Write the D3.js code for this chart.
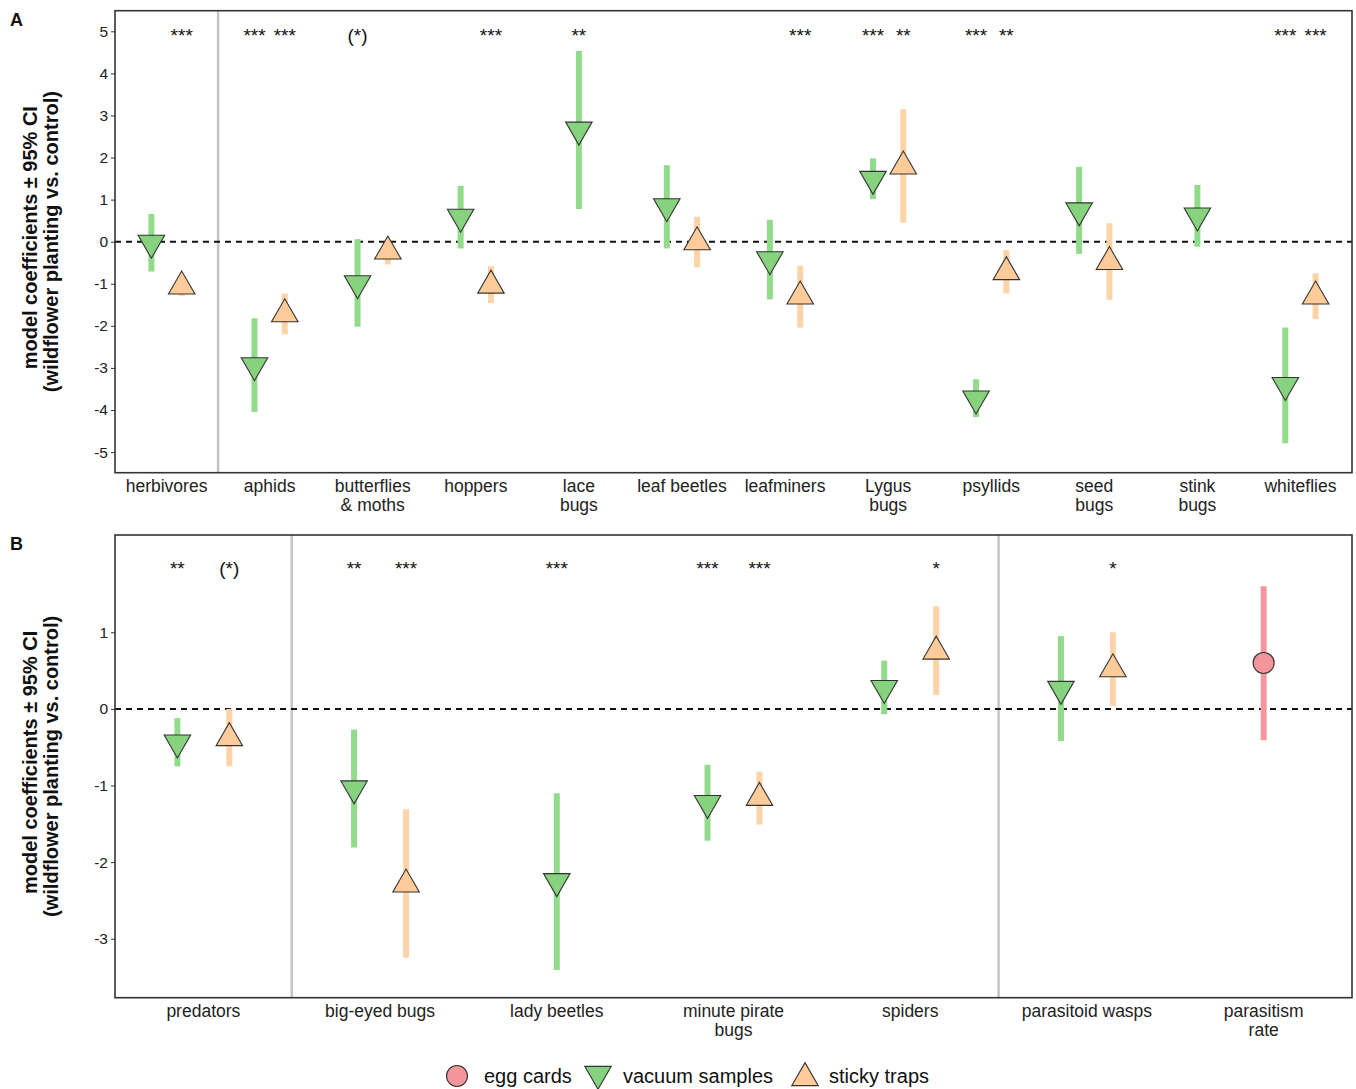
<!DOCTYPE html>
<html>
<head>
<meta charset="utf-8">
<script src="https://cdn.jsdelivr.net/npm/d3@7"></script>
<style>
body{margin:0;background:#fff;}
svg{font-family:"Liberation Sans",Arial,Helvetica,sans-serif;}
</style>
</head>
<body>
<div id="chart"></div>
<script>
// ---- panel A : herbivores ----
var catsA = ["herbivores","aphids","butterflies\n& moths","hoppers","lace\nbugs","leaf beetles","leafminers","Lygus\nbugs","psyllids","seed\nbugs","stink\nbugs","whiteflies"];
var vacA   = [-0.03,-2.94,-0.99, 0.59, 2.66, 0.84,-0.42, 1.49,-3.73, 0.74, 0.62,-3.41];
var vacALo = [-0.71,-4.05,-2.02,-0.16, 0.78,-0.16,-1.37, 1.01,-4.17,-0.29,-0.12,-4.79];
var vacAHi = [ 0.66,-1.82, 0.06, 1.33, 4.53, 1.82, 0.52, 1.98,-3.27, 1.78, 1.35,-2.04];
var stiA   = [-1.06,-1.72,-0.23,-1.04, null,-0.01,-1.30, 1.79,-0.72,-0.48, null,-1.30];
var stiALo = [-1.29,-2.20,-0.54,-1.46, null,-0.61,-2.04, 0.45,-1.23,-1.38, null,-1.84];
var stiAHi = [-0.85,-1.23, 0.05,-0.58, null, 0.59,-0.57, 3.15,-0.20, 0.44, null,-0.75];
var starsVacA = ["","***","(*)","","**","","","***","***","","","***"];
var starsStiA = ["***","***","","***","","","***","**","**","","","***"];
var ticksA = [-5,-4,-3,-2,-1,0,1,2,3,4,5];

// ---- panel B : natural enemies ----
var catsB = ["predators","big-eyed bugs","lady beetles","minute pirate\nbugs","spiders","parasitoid wasps","parasitism\nrate"];
var vacB   = [-0.44,-1.04,-2.25,-1.23, 0.27, 0.26, null];
var vacBLo = [-0.75,-1.81,-3.41,-1.72,-0.07,-0.42, null];
var vacBHi = [-0.12,-0.27,-1.10,-0.73, 0.63, 0.95, null];
var stiB   = [-0.38,-2.29, null,-1.16, 0.75, 0.52, null];
var stiBLo = [-0.75,-3.25, null,-1.51, 0.18, 0.04, null];
var stiBHi = [ 0.00,-1.31, null,-0.82, 1.34, 1.00, null];
var eggB   = [null,null,null,null,null,null, 0.60];
var eggBLo = [null,null,null,null,null,null,-0.41];
var eggBHi = [null,null,null,null,null,null, 1.60];
var starsVacB = ["**","**","***","***","","",""];
var starsStiB = ["(*)","***","","***","*","*",""];
var ticksB = [-3,-2,-1,0,1];

var colors = {
  egg:    {fill:"#F4959C", bar:"#F4979F"},
  vacuum: {fill:"#86D27F", bar:"#91DB8B"},
  sticky: {fill:"#FFCC99", bar:"#FFD3A8"}
};

var width = 1356, height = 1089;
var svg = d3.select('#chart').append('svg')
  .attr('width', width)
  .attr('height', height);

var left = 115, right = 1352;
var triSide = 26.5, triH = triSide*Math.sqrt(3)/2;

function shapePath(kind){
  if(kind=='vacuum'){
    return 'M'+(-triSide/2)+','+(-triH/3)+'L'+(triSide/2)+','+(-triH/3)+'L0,'+(2*triH/3)+'Z';
  }
  return 'M'+(-triSide/2)+','+(triH/3)+'L'+(triSide/2)+','+(triH/3)+'L0,'+(-2*triH/3)+'Z';
}

function drawPanel(cfg){
  var g = svg.append('g');
  var x = d3.scaleBand().domain(d3.range(cfg.cats.length)).range([left,right]).padding(0);
  var y = d3.scaleLinear().domain(cfg.ydom).range([cfg.bottom,cfg.top]);
  var bw = x.bandwidth();
  var dodge = 0.147*bw;

  // build points
  var pts = [];
  cfg.cats.forEach(function(c,i){
    var here = cfg.series.filter(function(s){ return s.est[i]!=null; });
    here.forEach(function(s,j){
      var off = here.length==1 ? 0 : (j==0 ? -dodge : dodge);
      pts.push({kind:s.kind, cx:x(i)+bw/2+off, est:s.est[i], lo:s.lo[i], hi:s.hi[i], star:s.stars ? s.stars[i] : ''});
    });
  });

  // separators
  g.selectAll('.sep').data(cfg.seps).enter().append('line')
    .attr('x1', function(d){ return x(d); })
    .attr('x2', function(d){ return x(d); })
    .attr('y1', cfg.top).attr('y2', cfg.bottom)
    .attr('stroke','#C4C4C4').attr('stroke-width',2.5);

  // zero line
  g.append('line')
    .attr('x1',left).attr('x2',right)
    .attr('y1',y(0)).attr('y2',y(0))
    .attr('stroke','#111').attr('stroke-width',2)
    .attr('stroke-dasharray','6,5');

  // CI bars
  g.selectAll('.ci').data(pts).enter().append('line')
    .attr('x1',function(d){ return d.cx; })
    .attr('x2',function(d){ return d.cx; })
    .attr('y1',function(d){ return y(d.lo); })
    .attr('y2',function(d){ return y(d.hi); })
    .attr('stroke',function(d){ return colors[d.kind].bar; })
    .attr('stroke-width',6);

  // markers
  pts.forEach(function(d){
    if(d.kind=='egg'){
      g.append('circle').attr('cx',d.cx).attr('cy',y(d.est)).attr('r',10.5)
        .attr('fill',colors.egg.fill).attr('stroke','#333').attr('stroke-width',1.1);
    } else {
      g.append('path').attr('d',shapePath(d.kind))
        .attr('transform','translate('+d.cx+','+y(d.est)+')')
        .attr('fill',colors[d.kind].fill).attr('stroke','#333').attr('stroke-width',1.1);
    }
  });

  // significance
  g.selectAll('.star').data(pts.filter(function(d){ return d.star; })).enter().append('text')
    .attr('x',function(d){ return d.cx; })
    .attr('y',y(cfg.starY))
    .attr('dy',11)
    .attr('text-anchor','middle')
    .attr('font-size','19px')
    .attr('fill','#111')
    .text(function(d){ return d.star; });

  // frame
  g.append('rect')
    .attr('x',left).attr('y',cfg.top)
    .attr('width',right-left).attr('height',cfg.bottom-cfg.top)
    .attr('fill','none').attr('stroke','#333').attr('stroke-width',1.6);

  // y axis
  var ya = g.append('g').attr('transform','translate('+left+',0)')
    .call(d3.axisLeft(y).tickValues(cfg.ticks).tickSize(4).tickPadding(3).tickFormat(function(d){ return String(d); }));
  ya.select('.domain').remove();
  ya.selectAll('line').attr('stroke','#333');
  ya.selectAll('text').attr('font-size','15.5px').attr('fill','#222')
    .attr('font-family','"Liberation Sans",Arial,sans-serif');

  // x axis labels
  var xa = g.append('g').attr('transform','translate(0,'+cfg.bottom+')')
    .call(d3.axisBottom(x).tickSize(0).tickFormat(function(i){ return cfg.cats[i]; }));
  xa.select('.domain').remove();
  xa.selectAll('text').each(function(i){
    var t = d3.select(this);
    var lines = cfg.cats[i].split('\n');
    t.text('').attr('y',19).attr('dy',null)
      .attr('font-size','17.5px').attr('fill','#222')
      .attr('font-family','"Liberation Sans",Arial,sans-serif');
    lines.forEach(function(l,k){
      t.append('tspan').attr('x',0).attr('dy', k==0 ? 0 : 19.5).text(l);
    });
  });

  // y title
  var cy = (cfg.top+cfg.bottom)/2;
  g.append('text').attr('transform','translate(37,'+(cy-4)+') rotate(-90)')
    .attr('text-anchor','middle').attr('font-weight','bold').attr('font-size','20px').attr('fill','#111')
    .text('model coefficients \u00b1 95% CI');
  g.append('text').attr('transform','translate(58,'+cy+') rotate(-90)')
    .attr('text-anchor','middle').attr('font-weight','bold').attr('font-size','20px').attr('fill','#111')
    .text('(wildflower planting vs. control)');

  // panel letter
  g.append('text').attr('x',10).attr('y',cfg.top+15)
    .attr('font-weight','bold').attr('font-size','18px').attr('fill','#111')
    .text(cfg.letter);
}

drawPanel({
  letter:'A', cats:catsA, ydom:[-5.49,5.49], top:10.7, bottom:472.7, ticks:ticksA,
  seps:[1], starY:5,
  series:[
    {kind:'vacuum', est:vacA, lo:vacALo, hi:vacAHi, stars:starsVacA},
    {kind:'sticky', est:stiA, lo:stiALo, hi:stiAHi, stars:starsStiA}
  ]
});

drawPanel({
  letter:'B', cats:catsB, ydom:[-3.77,2.27], top:535, bottom:997.7, ticks:ticksB,
  seps:[1,5], starY:1.89,
  series:[
    {kind:'egg', est:eggB, lo:eggBLo, hi:eggBHi, stars:null},
    {kind:'vacuum', est:vacB, lo:vacBLo, hi:vacBHi, stars:starsVacB},
    {kind:'sticky', est:stiB, lo:stiBLo, hi:stiBHi, stars:starsStiB}
  ]
});

// legend
var legendItems = [
  {kind:'egg', label:'egg cards', sx:457, tx:484},
  {kind:'vacuum', label:'vacuum samples', sx:598, tx:623},
  {kind:'sticky', label:'sticky traps', sx:805, tx:829}
];
var lg = svg.append('g');
var ly = 1076;
legendItems.forEach(function(d){
  if(d.kind=='egg'){
    lg.append('circle').attr('cx',d.sx).attr('cy',ly).attr('r',10.5)
      .attr('fill',colors.egg.fill).attr('stroke','#333').attr('stroke-width',1.1);
  } else {
    lg.append('path').attr('d',shapePath(d.kind))
      .attr('transform','translate('+d.sx+','+(ly+(d.kind=='vacuum'?-2:2))+')')
      .attr('fill',colors[d.kind].fill).attr('stroke','#333').attr('stroke-width',1.1);
  }
  lg.append('text').attr('x',d.tx).attr('y',ly+6.5)
    .attr('font-size','20px').attr('fill','#111').text(d.label);
});
</script>
</body>
</html>
